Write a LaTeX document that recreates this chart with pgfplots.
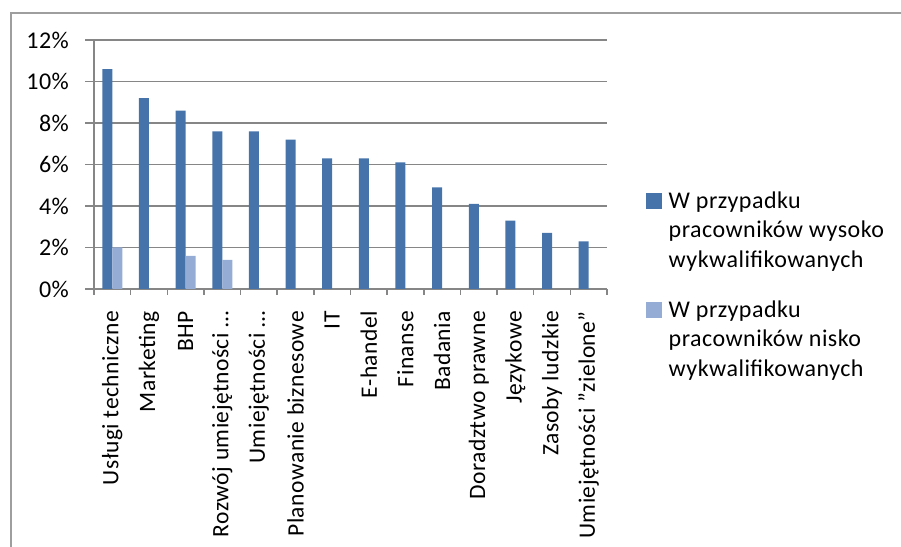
\documentclass[border=0pt]{standalone}
\usepackage{pgfplots}
\pgfplotsset{compat=1.18}
\usepackage{fontspec}
\setmainfont{Carlito}[LetterSpace=2]
\definecolor{darkbar}{RGB}{70,116,170}
\definecolor{lightbar}{RGB}{149,172,212}
\definecolor{gridgray}{RGB}{134,134,134}
\begin{document}
\begin{tikzpicture}[x=1bp,y=1bp]
\path[use as bounding box] (0,0) rectangle (901,547);
\draw[gridgray!80, line width=1.5bp] (11,-2) -- (11,534) -- (903,534);
\begin{axis}[
  at={(94bp,258bp)}, anchor=south west,
  scale only axis, width=513bp, height=249bp,
  xmin=-0.5, xmax=13.5, ymin=0, ymax=12,
  ybar=0pt, bar width=10bp,
  axis x line*=bottom, axis y line*=left,
  axis line style={gridgray, line width=1.5bp, -},
  ymajorgrids, grid style={gridgray, line width=1.5bp},
  ytick={0,2,...,12}, yticklabels={0\%,2\%,4\%,6\%,8\%,10\%,12\%},
  xtick={0,...,13},
  xticklabels={Usługi techniczne,Marketing,BHP,Rozwój umiejętności …,Umiejętności …,Planowanie biznesowe,IT,E-handel,Finanse,Badania,Doradztwo prawne,Językowe,Zasoby ludzkie,{Umiejętności "zielone"}},
  major x tick style={draw=none},
  minor xtick={-0.5,0.5,...,13.5},
  tick align=outside,
  major tick length=9bp, minor tick length=6bp,
  tick style={gridgray, line width=1.5bp},
  xticklabel style={rotate=90, anchor=east, inner sep=0pt, font=\fontsize{23.5bp}{28bp}\selectfont},
  yticklabel style={anchor=east, inner sep=0pt, font=\fontsize{24bp}{28bp}\selectfont},
  xticklabel shift=13bp,
  yticklabel shift=16bp,
  legend style={at={(1.075,0.40)}, anchor=north west, draw=none, fill=none,
    font=\fontsize{24bp}{29.5bp}\selectfont, row sep=28bp, column sep=5bp, inner sep=0pt,
    cells={anchor=west, align=left}},
  legend image code/.code={\fill[#1] (0bp,21bp) rectangle (16bp,37bp);},
]
\addplot[fill=darkbar, draw=none] coordinates {(0,10.6) (1,9.2) (2,8.6) (3,7.6) (4,7.6) (5,7.2) (6,6.3) (7,6.3) (8,6.1) (9,4.9) (10,4.1) (11,3.3) (12,2.7) (13,2.3)};
\addplot[fill=lightbar, draw=none] coordinates {(0,2.0) (2,1.6) (3,1.4)};
\legend{W przypadku\\pracowników wysoko\\wykwalifikowanych, W przypadku\\pracowników nisko\\wykwalifikowanych}
\end{axis}
\end{tikzpicture}
\end{document}
